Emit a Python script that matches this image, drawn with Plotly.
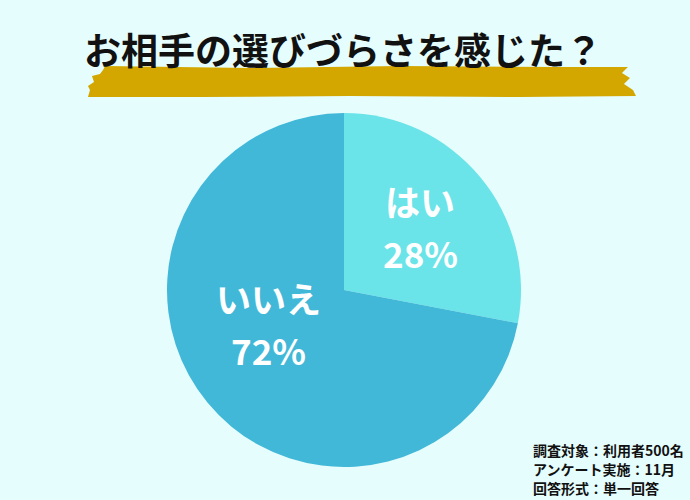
import plotly.graph_objects as go

categories = ["はい", "いいえ"]
values = [28, 72]
colors = ["#6ae4e8", "#42b8d8"]
title_text = "お相手の選びづらさを感じた？"
notes = ["調査対象：利用者500名", "アンケート実施：11月", "回答形式：単一回答"]

FONT = "Noto Sans CJK JP"
W, H = 690, 500
CX, CY, R = 344, 290, 177

def px(x):
    return x / W

def py(y):
    return 1 - y / H

fig = go.Figure()
fig.add_trace(go.Pie(
    labels=categories,
    values=values,
    textinfo="none",
    marker=dict(colors=colors, line=dict(width=0)),
    sort=False,
    direction="clockwise",
    rotation=0,
    hoverinfo="none",
    showlegend=False,
    domain=dict(x=[px(CX - R), px(CX + R)], y=[py(CY + R), py(CY - R)]),
))

# label placement (pixel positions of label block centres)
label_pos = [(420, 226), (268, 323)]
for cat, val, (lx, ly) in zip(categories, values, label_pos):
    fig.add_annotation(text=f"<b>{cat}</b>", xref="paper", yref="paper",
                       x=px(lx), y=py(ly - 26), xanchor="center", yanchor="middle",
                       showarrow=False, font=dict(family=FONT, size=35, color="white"))
    fig.add_annotation(text=f"<b>{val}%</b>", xref="paper", yref="paper",
                       x=px(lx), y=py(ly + 26), xanchor="center", yanchor="middle",
                       showarrow=False, font=dict(family=FONT, size=35, color="white"))

# brush stroke under the title
pts = [(105, 66), (250, 68), (400, 66), (560, 67), (628, 67), (622, 73), (630, 78),
       (624, 84), (633, 90), (636, 96), (520, 97), (350, 96), (200, 97), (88, 97),
       (90, 90), (88, 86), (94, 82), (92, 76), (100, 74), (103, 70)]
path = "M " + " L ".join(f"{px(x):.4f} {py(y):.4f}" for x, y in pts) + " Z"
fig.add_shape(type="path", path=path, xref="paper", yref="paper",
              fillcolor="#d3a700", line=dict(width=0), layer="below")

fig.add_annotation(text=f"<b>{title_text}</b>", xref="paper", yref="paper",
                   x=px(343), y=py(49), xanchor="center", yanchor="middle",
                   showarrow=False, font=dict(family=FONT, size=37, color="#111111"))

for i, n in enumerate(notes):
    fig.add_annotation(text=f"<b>{n}</b>", xref="paper", yref="paper",
                       x=px(532), y=py(450 + 19 * i), xanchor="left", yanchor="middle",
                       align="left", showarrow=False, borderpad=0,
                       font=dict(family=FONT, size=14, color="#111111"))

fig.update_layout(
    width=W, height=H,
    margin=dict(l=0, r=0, t=0, b=0),
    paper_bgcolor="#e6fdfd",
    plot_bgcolor="#e6fdfd",
)

fig.write_html("out.html", config={"displayModeBar": False},
               post_script="document.body.style.margin='0';document.body.style.overflow='hidden';")
